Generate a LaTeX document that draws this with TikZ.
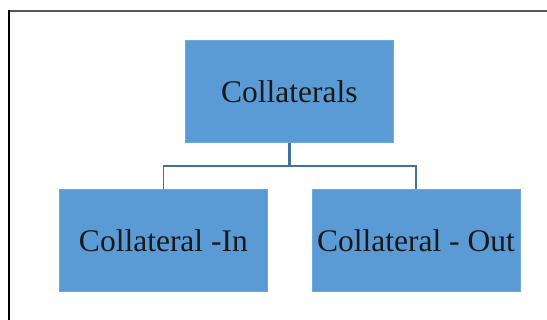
\documentclass[tikz,border=0pt]{standalone}
\usepackage{fontspec}
\setmainfont{Liberation Serif}
\usetikzlibrary{calc}
\definecolor{boxblue}{HTML}{5B9BD5}
\definecolor{boxedge}{HTML}{6FA8DC}
\definecolor{linkblue}{HTML}{41719C}
\definecolor{framegray}{HTML}{555555}
\tikzset{
  orgbox/.style={draw=boxedge, line width=0.8pt, fill=boxblue, minimum width=208pt, minimum height=102pt, inner sep=0pt, font=\fontsize{31.5}{36}\selectfont, text=black!90, anchor=north west},
  link/.style={draw=linkblue, line width=1.6pt},
  stem/.style={draw=linkblue, line width=3pt}
}
\begin{document}
\begin{tikzpicture}[x=1pt,y=-1pt]
\useasboundingbox (0,0) rectangle (547,320);
% frame
\draw[framegray, line width=2pt] (8,11) -- (547,11);
\draw[black, line width=1.5pt] (9,10) -- (9,320);
% nodes
\node[orgbox] (top) at (185,40.5) {Collaterals};
\node[orgbox] (left) at (59,189.5) {Collateral -In};
\node[orgbox] (right) at (311.5,189.5) {Collateral - Out};
% connectors
\coordinate (j) at ($(top.south)+(0,23)$);
\draw[stem] (top.south) -- (j);
\draw[link] (left.north) -- ++(0,-23.5) -| (right.north);
\end{tikzpicture}
\end{document}
